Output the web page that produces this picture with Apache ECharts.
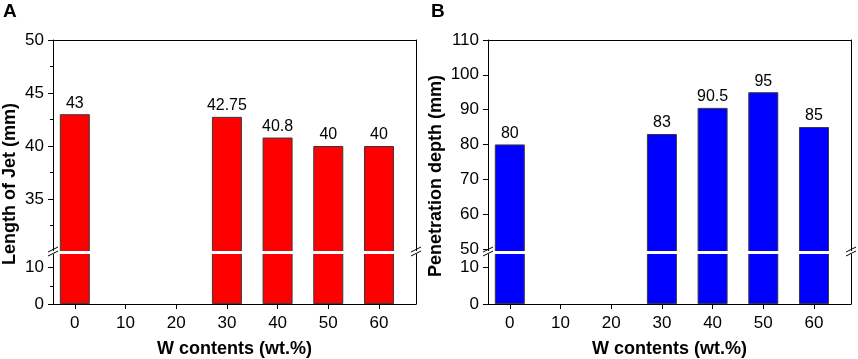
<!DOCTYPE html>
<html>
<head>
<meta charset="utf-8">
<script src="https://cdn.jsdelivr.net/npm/echarts@6.0.0/dist/echarts.min.js"></script>
<style>
  html, body { margin: 0; padding: 0; background: #fff; }
  #chart { width: 858px; height: 359px; }
</style>
</head>
<body>
<div id="chart"></div>
<script>
// data
const wContents = [0, 30, 40, 50, 60];
const jetLength = [43, 42.75, 40.8, 40, 40];
const penetration = [80, 83, 90.5, 95, 85];
const xTicks = [0, 10, 20, 30, 40, 50, 60];
const jetTicks = [35, 40, 45, 50];
const jetMinor = [32.5, 37.5, 42.5, 47.5];
const penTicks = [50, 60, 70, 80, 90, 100, 110];
const lowTicks = [0, 10];
const lowMinor = [5];

const FONT = '"Liberation Sans", Arial, sans-serif';
const INK = '#000';

const chart = echarts.init(document.getElementById('chart'));

// layout of the two panels (pixels)
const panels = [
  { left: 53, width: 363, color: '#ff0000', values: jetLength, upMin: 30, upMax: 50, ticks: jetTicks, minor: jetMinor, title: 'Length of Jet (mm)', titleX: 10, titleY: 184, tag: 'A', tagX: 3 },
  { left: 488, width: 363, color: '#0000ff', values: penetration, upMin: 49.1, upMax: 110, ticks: penTicks, minor: [], title: 'Penetration depth (mm)', titleX: 436, titleY: 176, tag: 'B', tagX: 431 }
];
const upTop = 40, upH = 212, lowTop = 253, lowH = 51;
const xMin = -4.3, xMax = 67.3;

const grid = [], xAxis = [], yAxis = [], series = [], graphic = [];

const lineStyle = { color: INK, width: 1 };

panels.forEach((p, i) => {
  const gUp = grid.length;
  grid.push({ left: p.left, top: upTop, width: p.width, height: upH });
  const gLow = grid.length;
  grid.push({ left: p.left, top: lowTop, width: p.width, height: lowH });

  // upper x axis = top frame line
  const xUp = xAxis.length;
  xAxis.push({
    type: 'value', gridIndex: gUp, min: xMin, max: xMax, position: 'top',
    axisLine: { show: true, onZero: false, lineStyle },
    axisTick: { show: false }, axisLabel: { show: false }, splitLine: { show: false }
  });
  // lower x axis with ticks and labels
  const xLow = xAxis.length;
  xAxis.push({
    type: 'value', gridIndex: gLow, min: xMin, max: xMax, position: 'bottom',
    name: 'W contents (wt.%)', nameLocation: 'middle', nameGap: 36,
    nameTextStyle: { fontFamily: FONT, fontSize: 18, fontWeight: 'bold', color: INK },
    axisLine: { show: true, onZero: false, lineStyle },
    axisTick: { show: true, customValues: xTicks, length: 5, lineStyle },
    axisLabel: { customValues: xTicks, margin: 11, fontFamily: FONT, fontSize: 17, color: INK },
    splitLine: { show: false }
  });

  const yUp = yAxis.length;
  yAxis.push({
    type: 'value', gridIndex: gUp, min: p.upMin, max: p.upMax, position: 'left',
    axisLine: { show: true, onZero: false, lineStyle },
    axisTick: { show: true, customValues: p.ticks, length: 5, lineStyle },
    axisLabel: { customValues: p.ticks, margin: 9, fontFamily: FONT, fontSize: 17, color: INK },
    splitLine: { show: false }
  });
  const yLow = yAxis.length;
  yAxis.push({
    type: 'value', gridIndex: gLow, min: 0, max: 14, position: 'left',
    axisLine: { show: true, onZero: false, lineStyle },
    axisTick: { show: true, customValues: lowTicks, length: 5, lineStyle },
    axisLabel: { customValues: lowTicks, margin: 9, fontFamily: FONT, fontSize: 17, color: INK },
    splitLine: { show: false }
  });
  // right frame lines
  [[gUp, p.upMin, p.upMax], [gLow, 0, 14]].forEach(([g, mn, mx]) => {
    yAxis.push({
      type: 'value', gridIndex: g, min: mn, max: mx, position: 'right',
      axisLine: { show: true, onZero: false, lineStyle },
      axisTick: { show: false }, axisLabel: { show: false }, splitLine: { show: false }
    });
  });
  // minor ticks (left panel only)
  if (p.minor.length) {
    [[gUp, p.upMin, p.upMax, p.minor], [gLow, 0, 14, lowMinor]].forEach(([g, mn, mx, mv]) => {
      yAxis.push({
        type: 'value', gridIndex: g, min: mn, max: mx, position: 'left',
        axisLine: { show: false, onZero: false },
        axisTick: { show: true, customValues: mv, length: 3, lineStyle },
        axisLabel: { show: false }, splitLine: { show: false }
      });
    });
  }

  const data = wContents.map((w, k) => [w, p.values[k]]);
  const itemStyle = { color: p.color, borderColor: '#3a3a3a', borderWidth: 1 };
  series.push({
    type: 'bar', xAxisIndex: xUp, yAxisIndex: yUp, data, barWidth: 30, itemStyle,
    label: {
      show: true, position: 'top', distance: 3, fontFamily: FONT, fontSize: 16, color: INK,
      formatter: (d) => String(d.value[1])
    },
    silent: true, animation: false
  });
  series.push({
    type: 'bar', xAxisIndex: xLow, yAxisIndex: yLow, data, barWidth: 30, itemStyle,
    silent: true, animation: false
  });

  // y-axis title and panel tag
  graphic.push({
    type: 'text', x: p.titleX, y: p.titleY, rotation: Math.PI / 2,
    style: { text: p.title, fontFamily: FONT, fontSize: 18, fontWeight: 'bold', fill: INK, align: 'center', verticalAlign: 'middle' }
  });
  graphic.push({
    type: 'text', x: p.tagX, y: 12,
    style: { text: p.tag, fontFamily: FONT, fontSize: 19, fontWeight: 'bold', fill: INK, align: 'left', verticalAlign: 'middle' }
  });

  // white gap of the axis break, across bars and frame
  graphic.push({
    type: 'rect', z: 100,
    shape: { x: p.left - 1, y: 251, width: p.width + 2, height: 3 },
    style: { fill: '#fff' }
  });

  // break marks on both side lines
  [p.left, p.left + p.width].forEach((bx) => {
    [0, 4].forEach((dy) => {
      graphic.push({
        type: 'line', z: 101,
        shape: { x1: bx - 5, y1: 252 + dy, x2: bx + 5, y2: 247 + dy },
        style: { stroke: INK, lineWidth: 1 }
      });
    });
  });
});

chart.setOption({
  backgroundColor: '#fff',
  animation: false,
  grid, xAxis, yAxis, series, graphic
});
</script>
</body>
</html>
